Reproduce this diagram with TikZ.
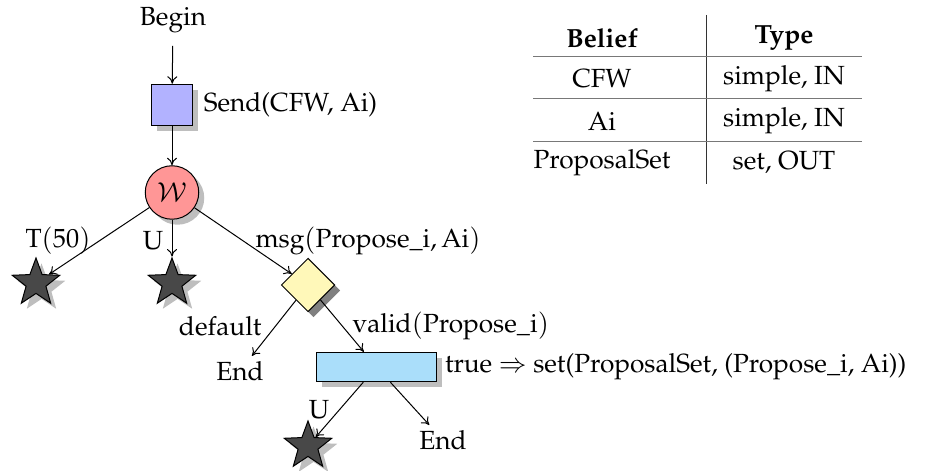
\documentclass[tikz,border=0pt]{standalone}
\usepackage[T1]{fontenc}
\usepackage{mathpazo}
\usetikzlibrary{shapes.geometric,shadows,arrows.meta}
\definecolor{sqfill}{RGB}{178,178,255}
\definecolor{cirfill}{RGB}{255,150,150}
\definecolor{diafill}{RGB}{255,248,185}
\definecolor{recfill}{RGB}{170,222,250}
\definecolor{starfill}{RGB}{72,72,72}
\definecolor{shadelight}{RGB}{190,190,190}
\definecolor{shadedark}{RGB}{128,128,128}
\definecolor{rulegray}{RGB}{120,120,120}
\tikzset{
  lightshadow/.style={drop shadow={shadow xshift=2.2pt,shadow yshift=-2.2pt,fill=shadelight,opacity=1}},
  darkshadow/.style={drop shadow={shadow xshift=2.2pt,shadow yshift=-2.2pt,fill=shadedark,opacity=1}},
  sqbox/.style={draw,thin,fill=sqfill,minimum size=16.6pt,inner sep=0pt,lightshadow},
  cirnode/.style={circle,draw,thin,fill=cirfill,minimum size=21.4pt,inner sep=0pt,lightshadow},
  dianode/.style={diamond,draw,thin,fill=diafill,minimum size=21.4pt,inner sep=0pt,darkshadow},
  recnode/.style={draw,thin,fill=recfill,minimum width=48pt,minimum height=11.8pt,inner sep=0pt,lightshadow},
  starnode/.style={star,star points=5,star point ratio=2.4,draw,thin,fill=starfill,minimum size=20pt,inner sep=0pt,lightshadow},
  txt/.style={inner sep=2pt},
  conn/.style={-{To[length=3pt,width=4pt]},thin},
  trule/.style={draw=rulegray,thin},
}
\newcommand{\mt}[1]{\ensuremath{\mathrm{#1}}}
\begin{document}
\begin{tikzpicture}[x=0.4pt,y=-0.4pt,font=\fontsize{10.5}{12.5}\selectfont]
\useasboundingbox (0,0) rectangle (925,471);
% nodes
\node[txt,inner ysep=5pt] (begin) at (173,20) {Begin};
\node[sqbox] (send) at (172,105) {};
\node[txt,anchor=west] (sendlbl) at ([xshift=2pt]send.east) {Send(CFW, Ai)};
\node[cirnode] (w) at (172,192.5) {$\mathcal{W}$};
\node[starnode] (s1) at (36,283) {};
\node[starnode] (s2) at (172,283) {};
\node[dianode] (d) at (308,285) {};
\node[txt] (end1) at (240,371) {End};
\node[recnode] (r) at (376.5,367) {};
\node[txt,anchor=west] (rlbl) at ([xshift=1pt]r.east) {true $\Rightarrow$ set(ProposalSet, (Propose\_i, Ai))};
\node[starnode] (s3) at (308,446) {};
\node[txt] (end2) at (443,440) {End};
% connectors
\draw[conn] (begin) -- (send);
\draw[conn] (send) -- (w);
\draw[conn] (w) -- (s1);
\draw[conn] (w) -- (s2);
\draw[conn] (w) -- (d);
\draw[conn] (d) -- (end1);
\draw[conn] (d) -- (r);
\draw[conn] (r) -- (s3);
\draw[conn] (r) -- (end2);
% edge labels
\node[txt] (l1) at (58,241) {$\mt{T}(50)$};
\node[txt] (l2) at (153,241) {$\mt{U}$};
\node[txt,anchor=west] (l3) at (250,241) {$\mt{msg}(\mt{Propose\_i}, \mt{Ai})$};
\node[txt,anchor=east] (l4) at (267,326) {$\mt{default}$};
\node[txt,anchor=west] (l5) at (347,326) {$\mt{valid}(\mt{Propose\_i})$};
\node[txt] (l6) at (319,410) {$\mt{U}$};
% table
\node[txt] (h1) at (602,38) {\textbf{Belief}};
\node[txt] (h2) at (784,38) {\textbf{Type}};
\node[txt] (a1) at (602,79) {CFW};
\node[txt] (b1) at (784,79) {simple, IN};
\node[txt] (a2) at (602,121) {Ai};
\node[txt] (b2) at (784,121) {simple, IN};
\node[txt] (a3) at (602,163) {ProposalSet};
\node[txt] (b3) at (784,163) {set, OUT};
\coordinate (vt) at (706,15);
\coordinate (vb) at (706,184);
\draw[thin,black!80] (vt) -- (vb);
\coordinate (r1l) at (533,57);  \coordinate (r1r) at (862,57);
\coordinate (r2l) at (533,99);  \coordinate (r2r) at (862,99);
\coordinate (r3l) at (533,142); \coordinate (r3r) at (862,142);
\draw[trule] (r1l) -- (r1r);
\draw[trule] (r2l) -- (r2r);
\draw[trule] (r3l) -- (r3r);
\end{tikzpicture}
\end{document}
